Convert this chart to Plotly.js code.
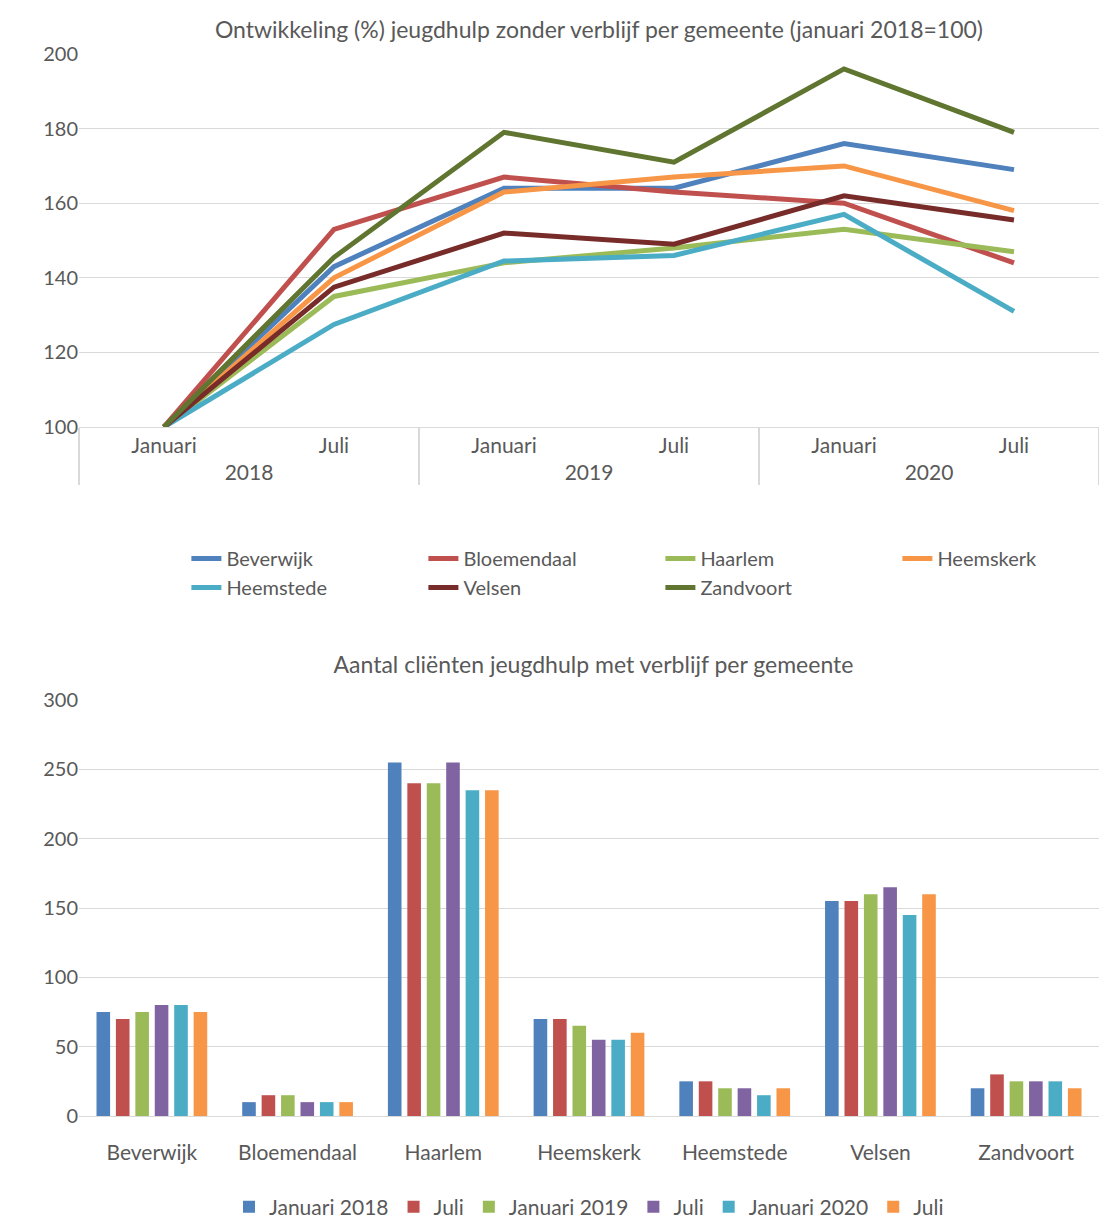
<!DOCTYPE html>
<html>
<head>
<meta charset="utf-8">
<script src="https://cdn.plot.ly/plotly-3.0.1.min.js"></script>
<style>
  body { margin: 0; background: #fff; }
  #top { position: absolute; left: 0; top: 0; width: 1099px; height: 630px; }
  #bottom { position: absolute; left: 0; top: 630px; width: 1099px; height: 589px; }
</style>
</head>
<body>
<div id="top"></div>
<div id="bottom"></div>
<script>
// line chart data
const years = ["2018", "2018", "2019", "2019", "2020", "2020"];
const halves = ["Januari", "Juli", "Januari", "Juli", "Januari", "Juli"];
const lineNames = ["Beverwijk", "Bloemendaal", "Haarlem", "Heemskerk", "Heemstede", "Velsen", "Zandvoort"];
const lineColors = ["#4F81BD", "#C0504D", "#9BBB59", "#F79646", "#4BACC6", "#772C2A", "#5F7530"];
const beverwijk = [100, 143, 164, 164, 176, 169];
const bloemendaal = [100, 153, 167, 163, 160, 144];
const haarlem = [100, 135, 144, 148, 153, 147];
const heemskerk = [100, 140, 163, 167, 170, 158];
const heemstede = [100, 127.5, 144.5, 146, 157, 131];
const velsen = [100, 137.5, 152, 149, 162, 155.5];
const zandvoort = [100, 145.5, 179, 171, 196, 179];
const lineSeries = [beverwijk, bloemendaal, haarlem, heemskerk, heemstede, velsen, zandvoort];

// bar chart data
const gemeenten = ["Beverwijk", "Bloemendaal", "Haarlem", "Heemskerk", "Heemstede", "Velsen", "Zandvoort"];
const barNames = ["Januari 2018", "Juli", "Januari 2019", "Juli", "Januari 2020", "Juli"];
const barColors = ["#4F81BD", "#C0504D", "#9BBB59", "#8064A2", "#4BACC6", "#F79646"];
const jan2018 = [75, 10, 255, 70, 25, 155, 20];
const jul2018 = [70, 15, 240, 70, 25, 155, 30];
const jan2019 = [75, 15, 240, 65, 20, 160, 25];
const jul2019 = [80, 10, 255, 55, 20, 165, 25];
const jan2020 = [80, 10, 235, 55, 15, 145, 25];
const jul2020 = [75, 10, 235, 60, 20, 160, 20];
const barSeries = [jan2018, jul2018, jan2019, jul2019, jan2020, jul2020];

const font = { family: "Lato, 'Open Sans', sans-serif", size: 20, color: "#595959" };

const lineTraces = lineSeries.map((ys, i) => ({
  x: [years, halves], y: ys, type: "scatter", mode: "lines",
  name: lineNames[i], line: { color: lineColors[i], width: 5 }
}));

Plotly.newPlot("top", lineTraces, {
  font: font,
  title: { text: "Ontwikkeling (%) jeugdhulp zonder verblijf per gemeente (januari 2018=100)", x: 0.545, y: 0.965, font: { size: 23, color: "#595959" } },
  margin: { l: 79, r: 0, t: 54, b: 203, autoexpand: false },
  xaxis: { type: "multicategory", range: [-0.5, 5.5], showgrid: false, showline: true, linecolor: "#d9d9d9", showdividers: true, dividercolor: "#d9d9d9", dividerwidth: 1.5, ticks: "", tickfont: { size: 21 }, automargin: false },
  yaxis: { range: [100, 200], dtick: 20, gridcolor: "#d9d9d9", zeroline: false, ticks: "", tickfont: { size: 20 }, automargin: false },
  showlegend: true,
  legend: { orientation: "h", x: 0.57, xanchor: "center", y: -0.3, yanchor: "top", entrywidth: 192, entrywidthmode: "pixels", font: { size: 20 }, tracegroupgap: 0 },
  paper_bgcolor: "#fff", plot_bgcolor: "#fff"
}, { displayModeBar: false });

const barTraces = barSeries.map((ys, i) => ({
  x: gemeenten, y: ys, type: "bar", name: barNames[i], marker: { color: barColors[i] }
}));

Plotly.newPlot("bottom", barTraces, {
  font: font,
  title: { text: "Aantal cliënten jeugdhulp met verblijf per gemeente", x: 0.54, y: 0.955, font: { size: 23, color: "#595959" } },
  margin: { l: 79, r: 0, t: 70, b: 103, autoexpand: false },
  barmode: "group", bargap: 0.2, bargroupgap: 0.3,
  xaxis: { range: [-0.5, 6.5], showline: true, linecolor: "#d9d9d9", ticks: "outside", ticklen: 18, tickcolor: "rgba(0,0,0,0)", tickfont: { size: 21 } },
  yaxis: { range: [0, 300], dtick: 50, gridcolor: "#d9d9d9", zeroline: false, tickfont: { size: 20 } },
  legend: { orientation: "h", x: 0.5, xanchor: "center", y: -0.17, yanchor: "top", font: { size: 21 } },
  paper_bgcolor: "#fff", plot_bgcolor: "#fff"
}, { displayModeBar: false });
</script>
</body>
</html>
